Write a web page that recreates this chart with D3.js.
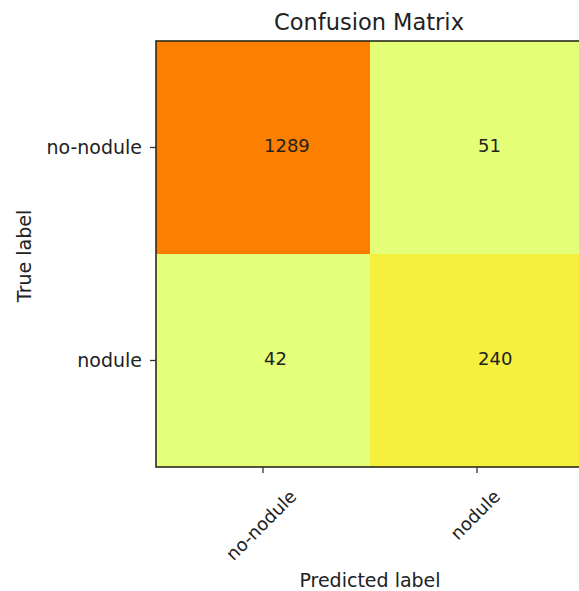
<!DOCTYPE html>
<html>
<head>
<meta charset="utf-8">
<script src="https://cdn.jsdelivr.net/npm/d3@7"></script>
<style>
  body { margin: 0; background: #fff; }
  text { font-family: "DejaVu Sans", sans-serif; fill: #222; }
</style>
</head>
<body>
<svg id="chart" width="579" height="591"></svg>
<script>
const trueLabels = ['no-nodule', 'nodule'];
const predLabels = ['no-nodule', 'nodule'];
// rows = true label, columns = predicted label
const row0 = [1289, 51];
const row1 = [42, 240];

const cells = [];
[row0, row1].forEach((r, i) => {
  r.forEach((v, j) => cells.push({row: trueLabels[i], col: predLabels[j], value: v}));
});

const svg = d3.select('#chart');
const margin = {left: 156, top: 41};
const cellW = 214, cellH = 213;

const x = d3.scaleBand()
  .domain(predLabels)
  .range([margin.left, margin.left + cellW * predLabels.length]);
const y = d3.scaleBand()
  .domain(trueLabels)
  .range([margin.top, margin.top + cellH * trueLabels.length]);

// matplotlib "Wistia"
const vals = cells.map(d => d.value);
const [lo, hi] = d3.extent(vals);
const color = d3.scaleLinear()
  .domain([0, 0.25, 0.5, 0.75, 1].map(t => lo + t * (hi - lo)))
  .range(['#e4ff7a', '#ffe81a', '#ffbd00', '#ffa000', '#fc7f00']);

svg.selectAll('rect.cell')
  .data(cells)
  .enter()
  .append('rect')
  .attr('class', 'cell')
  .attr('x', d => x(d.col))
  .attr('y', d => y(d.row))
  .attr('width', x.bandwidth())
  .attr('height', y.bandwidth())
  .attr('fill', d => color(d.value));

// numbers start at the tick position (left aligned)
svg.selectAll('text.val')
  .data(cells)
  .enter()
  .append('text')
  .attr('class', 'val')
  .attr('x', d => x(d.col) + x.bandwidth() / 2 + 1)
  .attr('y', d => y(d.row) + y.bandwidth() / 2 + 4)
  .attr('font-size', 18)
  .attr('fill', '#222')
  .text(d => d.value);

// frame
const x0 = x.range()[0], x1 = x.range()[1];
const y0 = y.range()[0], y1 = y.range()[1];
svg.append('rect')
  .attr('x', x0).attr('y', y0)
  .attr('width', x1 - x0).attr('height', y1 - y0)
  .attr('fill', 'none')
  .attr('stroke', '#2a2a1a')
  .attr('stroke-width', 1.6);

// y axis
const yAxis = svg.append('g')
  .attr('transform', `translate(${x0},0)`)
  .call(d3.axisLeft(y).tickSize(6).tickPadding(8));
yAxis.select('.domain').remove();
yAxis.selectAll('line').attr('stroke', '#333').attr('stroke-width', 1.3);
yAxis.selectAll('text')
  .attr('font-size', 19)
  .attr('font-family', '"DejaVu Sans", sans-serif')
  .attr('fill', '#222');

// x axis
const xAxis = svg.append('g')
  .attr('transform', `translate(0,${y1})`)
  .call(d3.axisBottom(x).tickSize(6).tickPadding(0));
xAxis.select('.domain').remove();
xAxis.selectAll('line').attr('stroke', '#333').attr('stroke-width', 1.3);
xAxis.selectAll('text')
  .attr('font-size', 18)
  .attr('font-family', '"DejaVu Sans", sans-serif')
  .attr('fill', '#222')
  .attr('text-anchor', 'middle')
  .attr('dy', null)
  .attr('dominant-baseline', 'central')
  .each(function() {
    const w = this.getComputedTextLength();
    const off = (w + 14) / (2 * Math.SQRT2) + 21;
    d3.select(this)
      .attr('y', 0)
      .attr('transform', `translate(-2,${off}) rotate(-45)`);
  });

svg.append('text')
  .attr('x', 369)
  .attr('y', 30)
  .attr('text-anchor', 'middle')
  .attr('font-size', 22.5)
  .text('Confusion Matrix');

svg.append('text')
  .attr('x', 370)
  .attr('y', 587)
  .attr('text-anchor', 'middle')
  .attr('font-size', 19)
  .text('Predicted label');

svg.append('text')
  .attr('transform', 'translate(31,256) rotate(-90)')
  .attr('text-anchor', 'middle')
  .attr('font-size', 19)
  .text('True label');
</script>
</body>
</html>
